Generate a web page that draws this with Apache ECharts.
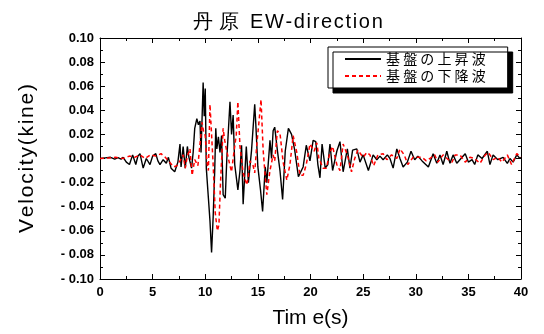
<!DOCTYPE html>
<html>
<head>
<meta charset="utf-8">
<script src="https://cdn.jsdelivr.net/npm/echarts@6/dist/echarts.min.js"></script>
<style>
  html, body { margin: 0; padding: 0; background: #fff; }
  #chart { width: 544px; height: 334px; }
</style>
</head>
<body>
<div id="chart"></div>
<script>
// 基盤の上昇波 (black, solid)
const upTime = [0, 0.5, 1.0, 1.4, 1.7, 2.0, 2.2, 2.5, 2.8, 3.1, 3.4, 3.6, 3.8, 4.1, 4.4, 4.75, 5.0, 5.3, 5.5, 5.7,
  6.0, 6.3, 6.5, 6.75, 7.1, 7.4, 7.6, 7.7, 7.9, 8.1, 8.3, 8.45, 8.7, 8.85, 9.0, 9.2, 9.35, 9.5, 9.6, 9.8,
  9.9, 10.0, 10.1, 10.3, 10.45, 10.6, 10.75, 10.9, 11.0, 11.1, 11.25, 11.4, 11.55, 11.7, 11.9, 12.05, 12.35, 12.5, 12.65, 12.8,
  13.1, 13.3, 13.45, 13.6, 13.9, 14.1, 14.4, 14.7, 14.8, 15.0, 15.25, 15.45, 15.7, 15.85, 16.15, 16.3, 16.45, 16.6, 16.85, 17.1,
  17.35, 17.6, 17.9, 18.2, 18.5, 18.85, 19.3, 19.6, 19.95, 20.25, 20.5, 20.7, 20.9, 21.1, 21.4, 21.65, 21.85, 22.1, 22.5, 22.8,
  23.1, 23.5, 23.75, 24.0, 24.4, 24.7, 25.0, 25.5, 25.95, 26.3, 26.6, 26.9, 27.3, 27.55, 27.85, 28.2, 28.5, 28.8, 29.2, 29.55,
  29.9, 30.2, 30.6, 31.2, 31.65, 32.0, 32.3, 32.6, 32.95, 33.25, 33.55, 33.9, 34.4, 34.7, 35.0, 35.35, 35.6, 35.9, 36.3, 36.8,
  37.05, 37.35, 37.8, 38.3, 38.7, 38.95, 39.25, 39.6, 39.9, 40];
const upVel = [0, 0.0005, 0.001, -0.0005, 0.0008, -0.0005, 0.001, -0.003, -0.005, 0.003, -0.005, 0.002, 0.004, -0.008, 0.0, -0.005, 0.002, 0.004, -0.002, -0.005,
  -0.001, -0.004, 0.001, -0.008, -0.011, -0.003, 0.012, -0.007, 0.010, -0.008, 0.010, 0.001, -0.008, 0.005, 0.025, 0.033, 0.028, 0.031, 0.005, 0.063,
  0.035, 0.058, -0.008, -0.033, -0.052, -0.078, -0.049, -0.010, 0.025, 0.008, 0.018, 0.005, 0.019, -0.030, -0.033, 0.0, 0.047, 0.020, 0.036, -0.005,
  -0.026, -0.010, 0.011, -0.038, 0.010, -0.020, 0.007, 0.045, 0.029, -0.007, -0.026, -0.044, -0.007, -0.020, 0.015, 0.0, 0.023, 0.026, 0.007, -0.010,
  -0.034, 0.006, 0.025, 0.020, 0.007, -0.015, -0.007, 0.011, -0.002, 0.015, 0.014, -0.005, -0.016, 0.012, -0.008, -0.005, 0.012, -0.010, 0.006, 0.014,
  -0.011, 0.008, -0.008, 0.007, 0.008, -0.003, 0.003, -0.010, 0.003, -0.001, 0.002, -0.001, 0.003, 0.0, -0.008, 0.008, 0.0, -0.007, -0.003, 0.006,
  -0.001, 0.002, -0.002, -0.007, 0.004, -0.004, 0.003, -0.005, 0.006, -0.004, 0.003, -0.004, 0.001, 0.004, -0.003, -0.001, -0.005, 0.003, 0.0, 0.006,
  -0.005, 0.003, -0.001, 0.001, -0.004, 0.0, -0.003, 0.003, 0.0, 0.001];

// 基盤の下降波 (red, dashed)
const downTime = [0, 0.8, 1.5, 2.2, 2.8, 3.3, 3.8, 4.3, 4.8, 5.3, 5.8, 6.2, 6.6, 7.0, 7.3, 7.6, 7.9, 8.1, 8.3, 8.55,
  8.75, 9.0, 9.3, 9.5, 9.7, 9.85, 10.0, 10.15, 10.3, 10.45, 10.6, 10.75, 10.95, 11.15, 11.3, 11.45, 11.7, 11.85, 12.0, 12.35,
  12.5, 12.65, 12.95, 13.1, 13.3, 13.6, 13.95, 14.1, 14.25, 14.55, 14.7, 14.9, 15.1, 15.3, 15.5, 15.7, 15.85, 16.15, 16.45, 16.6,
  16.85, 17.1, 17.4, 17.75, 18.05, 18.35, 18.7, 19.0, 19.3, 19.6, 19.95, 20.35, 20.6, 20.8, 21.2, 21.5, 21.85, 22.1, 22.5, 22.8,
  23.1, 23.5, 23.9, 24.2, 24.5, 25.0, 25.35, 25.65, 26.0, 26.4, 26.9, 27.25, 27.7, 28.2, 28.5, 28.9, 29.25, 29.75, 30.2, 30.6,
  31.0, 31.35, 31.8, 32.1, 32.6, 33.1, 33.45, 33.75, 34.2, 34.7, 35.15, 35.6, 36.1, 36.6, 36.9, 37.35, 37.8, 38.2, 38.7, 39.1,
  39.6, 40];
const downVel = [0, 0.0005, 0.001, 0.0, 0.002, 0.001, 0.003, 0.0, 0.003, 0.002, 0.004, 0.001, -0.003, -0.007, -0.006, -0.002, 0.003, -0.008, 0.002, 0.008,
  -0.014, -0.001, -0.006, 0.012, 0.030, 0.022, 0.019, -0.002, -0.010, 0.045, 0.020, -0.005, -0.045, -0.060, -0.055, -0.020, 0.025, 0.015, 0.008, -0.006,
  -0.011, 0.0, 0.020, 0.047, 0.010, -0.012, -0.022, -0.014, -0.002, -0.006, -0.012, 0.012, 0.030, 0.049, 0.007, -0.015, -0.030, -0.010, 0.003, -0.002,
  0.023, 0.021, -0.003, -0.018, -0.005, 0.019, 0.005, -0.014, -0.014, -0.005, 0.012, 0.006, 0.013, 0.0, -0.008, -0.008, 0.005, 0.010, -0.005, -0.010,
  0.012, 0.003, -0.011, 0.0, 0.007, 0.001, 0.005, 0.003, -0.006, 0.003, 0.004, -0.001, 0.003, 0.0, 0.008, 0.003, -0.005, 0.001, 0.001, 0.001,
  -0.002, 0.0, 0.003, -0.003, 0.003, -0.001, -0.003, 0.003, 0.003, -0.003, 0.001, 0.0, -0.004, 0.003, 0.005, -0.001, 0.001, -0.003, 0.003, -0.005,
  0.004, 0.001];

const xTicks = [0, 5, 10, 15, 20, 25, 30, 35, 40];
const yTicks = [-0.10, -0.08, -0.06, -0.04, -0.02, 0.00, 0.02, 0.04, 0.06, 0.08, 0.10];

const toPairs = (t, v) => t.map((x, i) => [x, v[i]]);
// 文字間を少し広げる (hair space)
const spaced = (s) => s.split("").join("\u200A");

const chart = echarts.init(document.getElementById("chart"));

const axisLabelFont = { color: "#000", fontFamily: "Liberation Sans, Arial", fontWeight: "bold", fontSize: 13 };

const xBase = {
  type: "value",
  min: xTicks[0],
  max: xTicks[xTicks.length - 1],
  interval: 5,
  axisLine: { show: true, onZero: false, lineStyle: { color: "#000", width: 1 } },
  axisTick: { show: true, inside: true, length: 5, lineStyle: { color: "#000" } },
  minorTick: { show: true, splitNumber: 2, length: 3, lineStyle: { color: "#000" } },
  splitLine: { show: false },
};
const yBase = {
  type: "value",
  min: yTicks[0],
  max: yTicks[yTicks.length - 1],
  interval: 0.02,
  axisLine: { show: true, onZero: false, lineStyle: { color: "#000", width: 1 } },
  axisTick: { show: true, inside: true, length: 5, lineStyle: { color: "#000" } },
  minorTick: { show: true, splitNumber: 2, length: 3, lineStyle: { color: "#000" } },
  splitLine: { show: false },
};

chart.setOption({
  animation: false,
  backgroundColor: "#fff",
  title: {
    text: "丹 原  " + spaced("EW-direction"),
    left: 283,
    textAlign: "center",
    top: 7,
    textStyle: { fontFamily: "Liberation Sans, Arial", fontWeight: "normal", fontSize: 20, color: "#000" },
  },
  grid: { left: 100, right: 23, top: 38, bottom: 52 },
  legend: {
    left: 328,
    top: 47,
    orient: "vertical",
    itemWidth: 36,
    itemHeight: 10,
    itemGap: 3,
    padding: [5, 22, 5, 16],
    backgroundColor: "#fff",
    borderColor: "#000",
    borderWidth: 1,
    borderRadius: 0,
    shadowColor: "#000",
    shadowBlur: 0,
    shadowOffsetX: 5,
    shadowOffsetY: 5,
    itemStyle: { opacity: 0 },
    formatter: (name) => name.split("").join(" "),
    textStyle: { fontFamily: "Noto Sans CJK JP", fontSize: 14, color: "#000" },
    data: ["基盤の上昇波", "基盤の下降波"],
  },
  xAxis: [
    Object.assign({}, xBase, {
      position: "bottom",
      name: "Tim e(s)",
      nameLocation: "middle",
      nameGap: 29,
      nameTextStyle: { fontFamily: "Liberation Sans, Arial", fontSize: 21, color: "#000" },
      axisLabel: Object.assign({ margin: 7 }, axisLabelFont),
    }),
    Object.assign({}, xBase, { position: "top", axisLabel: { show: false } }),
  ],
  yAxis: [
    Object.assign({}, yBase, {
      position: "left",
      name: spaced("Velocity(kine)"),
      nameLocation: "middle",
      nameGap: 62,
      nameTextStyle: { fontFamily: "Liberation Sans, Arial", fontSize: 21, color: "#000" },
      axisLabel: Object.assign({
        margin: 6,
        formatter: (v) => (v < 0 ? "- " + Math.abs(v).toFixed(2) : v.toFixed(2)),
      }, axisLabelFont),
    }),
    Object.assign({}, yBase, { position: "right", axisLabel: { show: false } }),
  ],
  series: [
    {
      name: "基盤の上昇波",
      type: "line",
      data: toPairs(upTime, upVel),
      showSymbol: false,
      symbol: "none",
      lineStyle: { color: "#000", width: 1.4 },
      itemStyle: { color: "#000" },
      z: 2,
    },
    {
      name: "基盤の下降波",
      type: "line",
      data: toPairs(downTime, downVel),
      showSymbol: false,
      symbol: "none",
      lineStyle: { color: "#ff0000", width: 1.5, type: [4, 3] },
      itemStyle: { color: "#ff0000" },
      z: 3,
    },
  ],
});
</script>
</body>
</html>
